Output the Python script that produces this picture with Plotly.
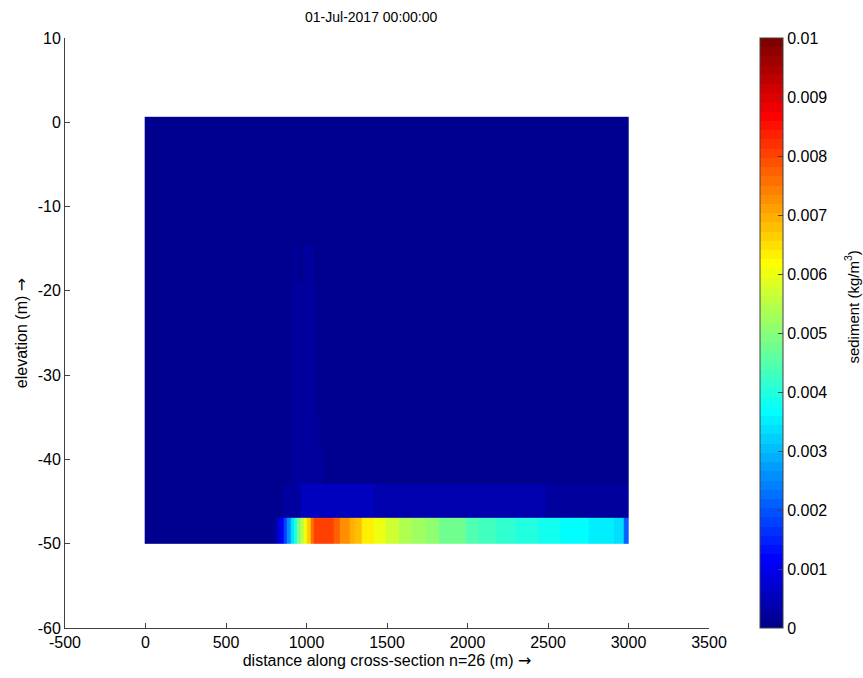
import numpy as np
import plotly.graph_objects as go

# Section extent (m)
x_left, x_right = -5, 3000
# Layer interfaces, bottom to top (m)
layer_edges = [-50.0, -46.9, -42.9, -39.0, -34.3, -29.2, -24.2, -19.0, -14.5, -9.5, -4.4, 0.65]

# Bottom layer: cell edges along the section and sediment concentration (kg/m3)
bed_edges = [794, 816, 837, 857, 878, 899, 919, 940, 961, 981,
             1002, 1023, 1043, 1168, 1209, 1271, 1302, 1344, 1416, 1489,
             1572, 1655, 1738, 1820, 1904, 1986, 2069, 2183, 2297, 2442,
             2577, 2753, 2908, 2970, 3000]
bed_values = [0.0003, 0.0007, 0.0012, 0.0018, 0.0026, 0.0033, 0.0039, 0.0049, 0.0055, 0.0060,
              0.0066, 0.0075, 0.0081, 0.0077, 0.0072, 0.0069, 0.0068, 0.00625, 0.0060, 0.0057,
              0.0054, 0.0052, 0.0050, 0.0048, 0.0047, 0.0045, 0.0043, 0.0041, 0.0040, 0.00375,
              0.0036, 0.00345, 0.0033, 0.0021]

# Upper layers: (layer index, x from, x to, concentration) for non-zero runs
upper_runs = [
    (1, 855, 961, 0.00023), (1, 961, 1415, 0.00055), (1, 1415, 2483, 0.00039), (1, 2483, 3000, 0.00023),
    (2, 899, 1104, 0.00023),
    (3, 899, 1078, 0.00023),
    (4, 899, 1055, 0.00023),
    (5, 899, 1055, 0.00023),
    (6, 899, 973, 0.00023), (6, 973, 1055, 0.00023),
    (7, 917, 942, 0.00023), (7, 980, 1042, 0.00023),
]

colorbar_ticks = [0, 0.001, 0.002, 0.003, 0.004, 0.005, 0.006, 0.007, 0.008, 0.009, 0.01]
colorbar_labels = ["0", "0.001", "0.002", "0.003", "0.004", "0.005", "0.006", "0.007", "0.008", "0.009", "0.01"]
x_ticks = [-500, 0, 500, 1000, 1500, 2000, 2500, 3000, 3500]
x_labels = ["-500", "0", "500", "1000", "1500", "2000", "2500", "3000", "3500"]
y_ticks = [-60, -50, -40, -30, -20, -10, 0, 10]
y_labels = ["-60", "-50", "-40", "-30", "-20", "-10", "0", "10"]

# ---- build the cell grid ----
edges = sorted(set([x_left, x_right] + bed_edges + [v for r in upper_runs for v in r[1:3]]))
centers = 0.5 * (np.array(edges[:-1]) + np.array(edges[1:]))
nlay = len(layer_edges) - 1
z = np.zeros((nlay, len(centers)))
for i in range(len(bed_values)):
    m = (centers > bed_edges[i]) & (centers < bed_edges[i + 1])
    z[0, m] = bed_values[i]
for lay, a, b, v in upper_runs:
    m = (centers > a) & (centers < b)
    z[lay, m] = v


# ---- 64-step jet colormap ----
def jet(m=64):
    n = int(np.ceil(m / 4))
    u = np.concatenate([np.arange(1, n + 1) / n, np.ones(n - 1), np.arange(n, 0, -1) / n])
    g = int(np.ceil(n / 2)) - (1 if m % 4 == 1 else 0) + np.arange(1, len(u) + 1)
    r = g + n
    b = g - n
    J = np.zeros((m, 3))
    for idx, val in zip(r, u):
        if 1 <= idx <= m:
            J[idx - 1, 0] = val
    for idx, val in zip(g, u):
        if 1 <= idx <= m:
            J[idx - 1, 1] = val
    for idx, val in zip(b, u):
        if 1 <= idx <= m:
            J[idx - 1, 2] = val
    return J


cmap = jet(64)
colorscale = []
for k, c in enumerate(cmap):
    col = "rgb(%d,%d,%d)" % tuple(np.round(c * 255))
    colorscale.append([k / 64, col])
    colorscale.append([(k + 1) / 64, col])

axis_col = "#404040"
font = "Liberation Sans, Arial, sans-serif"
arrow = '<span style="font-family:DejaVu Sans">→</span>'

# plot area in pixels
W, H = 863, 678
L, R, T, B = 65, 708.6, 38, 630
pw = R - L
cb_left = 760


def px_to_xpaper(px):
    return (px - L) / pw


fig = go.Figure(go.Heatmap(
    x=edges, y=layer_edges, z=z,
    zmin=0, zmax=0.01, zsmooth=False,
    colorscale=colorscale,
    colorbar=dict(
        x=px_to_xpaper(cb_left), xanchor="left", xpad=0,
        y=0.5, yanchor="middle", ypad=0,
        len=1, lenmode="fraction", thickness=23, thicknessmode="pixels",
        outlinewidth=1, outlinecolor=axis_col,
        tickvals=colorbar_ticks, ticktext=colorbar_labels,
        ticks="inside", ticklen=5, tickcolor=axis_col,
        tickfont=dict(size=16, color="black", family=font),
    ),
    hoverinfo="skip",
))

# tick marks on the left edge of the colour bar
for v in colorbar_ticks[1:-1]:
    fig.add_shape(type="line", xref="paper", yref="paper",
                  x0=px_to_xpaper(cb_left), x1=px_to_xpaper(cb_left + 5),
                  y0=v / 0.01, y1=v / 0.01,
                  line=dict(color=axis_col, width=1))

fig.add_annotation(text="sediment (kg/m<sup>3</sup>)", textangle=-90,
                   xref="paper", yref="paper", x=px_to_xpaper(851), y=1 - (308 - T) / (B - T),
                   xanchor="center", yanchor="middle", showarrow=False,
                   font=dict(size=15, color="black", family=font))

fig.add_annotation(text="01-Jul-2017 00:00:00",
                   xref="paper", yref="paper", x=px_to_xpaper(371), y=1 + (T - 17) / (B - T),
                   xanchor="center", yanchor="middle", showarrow=False,
                   font=dict(size=14, color="black", family=font))

fig.update_layout(
    width=W, height=H,
    margin=dict(l=L, r=W - R, t=T, b=H - B),
    paper_bgcolor="white", plot_bgcolor="white",
    font=dict(family=font, size=16, color="black"),
    xaxis=dict(range=[-500, 3500], tickvals=x_ticks, ticktext=x_labels, ticks="inside", ticklen=5,
               tickcolor=axis_col, showline=True, linecolor=axis_col, linewidth=1,
               showgrid=False, zeroline=False,
               title=dict(text="distance along cross-section n=26 (m) " + arrow, standoff=4,
                          font=dict(size=16))),
    yaxis=dict(range=[-60, 10], tickvals=y_ticks, ticktext=y_labels, ticks="inside", ticklen=5,
               tickcolor=axis_col, showline=True, linecolor=axis_col, linewidth=1,
               showgrid=False, zeroline=False,
               title=dict(text="elevation (m) " + arrow, standoff=6, font=dict(size=16))),
)

fig.write_html("out.html")
